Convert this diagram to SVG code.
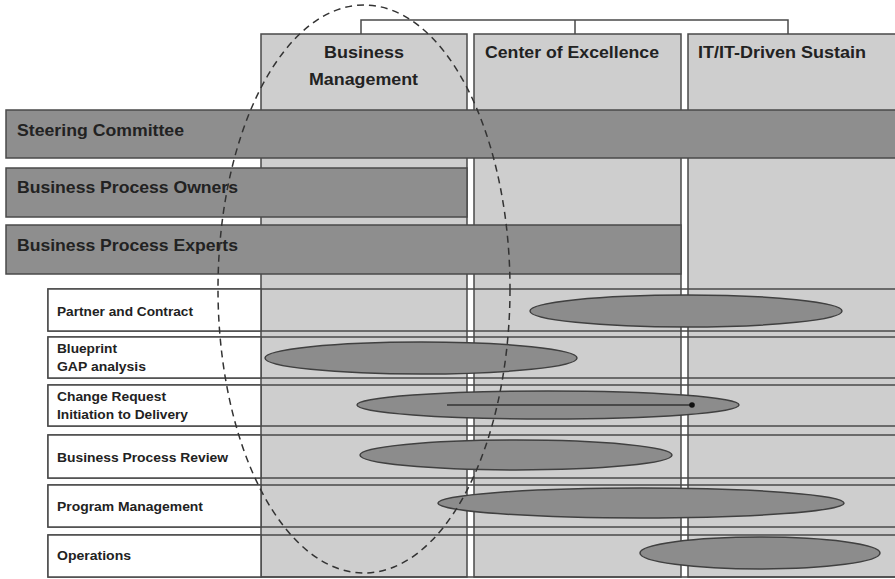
<svg xmlns="http://www.w3.org/2000/svg" width="895" height="579" viewBox="0 0 895 579">
<style>
.col{fill:#cecece;stroke:#4a4a4a;stroke-width:1.5}
.bar{fill:#8e8e8e;stroke:#4a4a4a;stroke-width:1.5}
.row{fill:none;stroke:#4a4a4a;stroke-width:1.5}
.lbl{fill:#ffffff;stroke:#4a4a4a;stroke-width:1.5}
.ell{fill:#8c8c8c;stroke:#404040;stroke-width:1.5}
.hd{font-family:"Liberation Sans",Arial,sans-serif;font-weight:bold;font-size:16.5px;fill:#222}
.rl{font-family:"Liberation Sans",Arial,sans-serif;font-weight:bold;font-size:13px;fill:#222}
.con{fill:none;stroke:#4a4a4a;stroke-width:1.5}
</style>
<defs>
<marker id="dot" markerWidth="6" markerHeight="6" refX="3" refY="3" markerUnits="userSpaceOnUse"><circle cx="3" cy="3" r="2.8" fill="#111"/></marker>
</defs>
<rect width="895" height="579" fill="#ffffff"/>
<g id="connectors">
<path class="con" d="M361,34 V20 H788 V34 M575,20 V34"/>
</g>
<g id="col-business-management">
<rect class="col" x="261" y="34" width="206" height="543"/>
<text class="hd" x="324" y="58" textLength="80" lengthAdjust="spacingAndGlyphs">Business</text>
<text class="hd" x="309" y="85" textLength="109" lengthAdjust="spacingAndGlyphs">Management</text>
</g>
<g id="col-center-of-excellence">
<rect class="col" x="474" y="34" width="207" height="543"/>
<text class="hd" x="485" y="58" textLength="174" lengthAdjust="spacingAndGlyphs">Center of Excellence</text>
</g>
<g id="col-it-driven-sustain">
<rect class="col" x="688" y="34" width="210" height="543"/>
<text class="hd" x="698" y="58" textLength="168" lengthAdjust="spacingAndGlyphs">IT/IT-Driven Sustain</text>
</g>
<g id="bar-steering-committee">
<rect class="bar" x="6" y="110" width="892" height="48"/>
<text class="hd" x="17" y="136" textLength="167" lengthAdjust="spacingAndGlyphs">Steering Committee</text>
</g>
<g id="bar-business-process-owners">
<rect class="bar" x="6" y="168" width="461" height="49"/>
<text class="hd" x="17" y="193" textLength="221" lengthAdjust="spacingAndGlyphs">Business Process Owners</text>
</g>
<g id="bar-business-process-experts">
<rect class="bar" x="6" y="225" width="675" height="49"/>
<text class="hd" x="17" y="251" textLength="221" lengthAdjust="spacingAndGlyphs">Business Process Experts</text>
</g>
<g id="row-partner-and-contract">
<rect class="row" x="48" y="289" width="850" height="42"/>
<rect class="lbl" x="48" y="289" width="213" height="42"/>
<text class="rl" x="57" y="316" textLength="136" lengthAdjust="spacingAndGlyphs">Partner and Contract</text>
</g>
<g id="row-blueprint">
<rect class="row" x="48" y="337" width="850" height="41"/>
<rect class="lbl" x="48" y="337" width="213" height="41"/>
<text class="rl" x="57" y="353" textLength="60" lengthAdjust="spacingAndGlyphs">Blueprint</text>
<text class="rl" x="57" y="371" textLength="89" lengthAdjust="spacingAndGlyphs">GAP analysis</text>
</g>
<g id="row-change-request">
<rect class="row" x="48" y="385" width="850" height="41"/>
<rect class="lbl" x="48" y="385" width="213" height="41"/>
<text class="rl" x="57" y="401" textLength="109" lengthAdjust="spacingAndGlyphs">Change Request</text>
<text class="rl" x="57" y="419" textLength="131" lengthAdjust="spacingAndGlyphs">Initiation to Delivery</text>
</g>
<g id="row-business-process-review">
<rect class="row" x="48" y="435" width="850" height="43"/>
<rect class="lbl" x="48" y="435" width="213" height="43"/>
<text class="rl" x="57" y="462" textLength="171" lengthAdjust="spacingAndGlyphs">Business Process Review</text>
</g>
<g id="row-program-management">
<rect class="row" x="48" y="485" width="850" height="42"/>
<rect class="lbl" x="48" y="485" width="213" height="42"/>
<text class="rl" x="57" y="511" textLength="146" lengthAdjust="spacingAndGlyphs">Program Management</text>
</g>
<g id="row-operations">
<rect class="row" x="48" y="535" width="850" height="42"/>
<rect class="lbl" x="48" y="535" width="213" height="42"/>
<text class="rl" x="57" y="560" textLength="74" lengthAdjust="spacingAndGlyphs">Operations</text>
</g>
<g id="ellipses">
<ellipse id="e-partner" class="ell" cx="686" cy="311" rx="156" ry="16"/>
<ellipse id="e-blueprint" class="ell" cx="421" cy="358" rx="156" ry="16"/>
<ellipse id="e-change" class="ell" cx="548" cy="405" rx="191" ry="14"/>
<ellipse id="e-review" class="ell" cx="516" cy="455" rx="156" ry="15"/>
<ellipse id="e-program" class="ell" cx="641" cy="503" rx="203" ry="15"/>
<ellipse id="e-operations" class="ell" cx="760" cy="553" rx="120" ry="16"/>
</g>
<g id="connector-arrow">
<line x1="447" y1="405" x2="692" y2="405" stroke="#333" stroke-width="1.5" marker-end="url(#dot)"/>
</g>
<g id="dashed-ellipse">
<ellipse cx="364" cy="289" rx="146" ry="284" fill="none" stroke="#333" stroke-width="1.5" stroke-dasharray="7,5"/>
</g>
</svg>
